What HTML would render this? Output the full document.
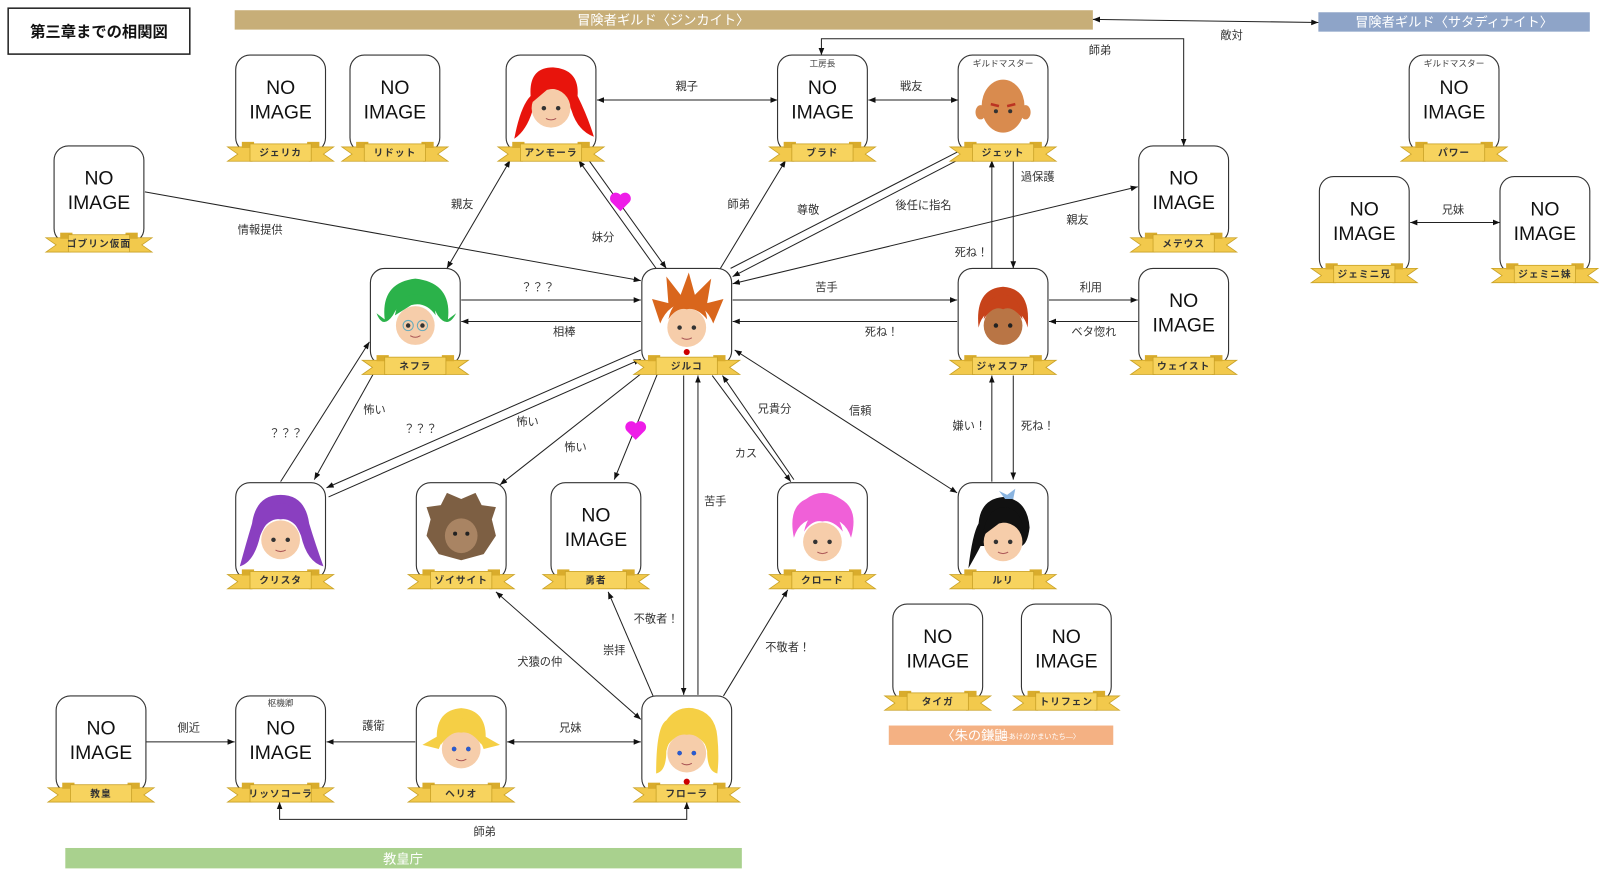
<!DOCTYPE html>
<html><head><meta charset="utf-8"><style>
html,body{margin:0;padding:0;background:#fff;}
svg{display:block;font-family:"Liberation Sans","Noto Sans CJK JP",sans-serif;}
.l{font-size:11px;fill:#333;text-anchor:middle;}
.n{font-size:19px;fill:#111;text-anchor:middle;}
.r{font-size:9.5px;font-weight:bold;fill:#333;text-anchor:middle;letter-spacing:1px;}
.s{font-size:8.5px;fill:#444;text-anchor:middle;}
.b{font-size:13px;fill:#fff;text-anchor:middle;}
line,polyline{stroke:#222;stroke-width:1;fill:none;}
</style></head><body>
<svg width="1600" height="878" viewBox="0 0 1568 860.4" xmlns="http://www.w3.org/2000/svg">
<defs>
<marker id="a" viewBox="0 0 10 10" refX="10" refY="5" markerWidth="7" markerHeight="7" orient="auto-start-reverse"><path d="M0,1 L10,5 L0,9z" fill="#111"/></marker>
<symbol id="card" overflow="visible">
<rect x="0" y="0" width="88" height="95" rx="14" fill="#fff" stroke="#333" stroke-width="1.1"/>
<polygon points="16,90 -8,90 2,97 -8,104 16,104" fill="#f2c94c" stroke="#c9a227" stroke-width=".8"/>
<polygon points="72,90 96,90 86,97 96,104 72,104" fill="#f2c94c" stroke="#c9a227" stroke-width=".8"/>
<rect x="6" y="85" width="12" height="6" fill="#d9ac2c"/>
<rect x="70" y="85" width="12" height="6" fill="#d9ac2c"/>
<rect x="14" y="87" width="60" height="17" fill="#f7d35e" stroke="#c9a227" stroke-width=".8"/>
</symbol>
<symbol id="face" overflow="visible">
<circle cx="44" cy="52" r="19" fill="#f6cdaa"/>
<circle cx="37" cy="52" r="2.2" fill="#333"/><circle cx="51" cy="52" r="2.2" fill="#333"/>
<path d="M39 62 Q44 65 49 62" stroke="#a55" fill="none"/>
</symbol>
</defs>

<!-- title -->
<rect x="8" y="8" width="178" height="45" fill="#fff" stroke="#222" stroke-width="1.5"/>
<text x="97" y="36" style="font-size:15px;font-weight:bold;" text-anchor="middle" fill="#111">第三章までの相関図</text>

<!-- banners -->
<rect x="230" y="10" width="841" height="19" fill="#c7ae78"/>
<text class="b" x="650" y="24">冒険者ギルド〈ジンカイト〉</text>
<rect x="1292" y="12" width="266" height="19" fill="#8ea4c8"/>
<text class="b" x="1425" y="26">冒険者ギルド〈サタディナイト〉</text>
<rect x="64" y="831" width="663" height="20" fill="#a9d18e"/>
<text class="b" x="395" y="846">教皇庁</text>
<rect x="871" y="711" width="220" height="19" fill="#f4b183"/>
<text class="b" x="955" y="725">〈朱の鎌鼬</text><text x="1020" y="724" style="font-size:7px" fill="#fff" text-anchor="middle">―あけのかまいたち―〉</text>

<!-- connectors -->
<line x1="1071" y1="19" x2="1292" y2="22" marker-start="url(#a)" marker-end="url(#a)"/>
<polyline points="805,54 805,38 1160,38 1160,143" marker-start="url(#a)" marker-end="url(#a)"/>
<line x1="585" y1="98" x2="762" y2="98" marker-start="url(#a)" marker-end="url(#a)"/>
<line x1="851" y1="98" x2="939" y2="98" marker-start="url(#a)" marker-end="url(#a)"/>
<line x1="142" y1="188" x2="628" y2="275" marker-end="url(#a)"/>
<line x1="438" y1="263" x2="500" y2="157" marker-start="url(#a)" marker-end="url(#a)"/>
<line x1="567" y1="157" x2="643" y2="263" marker-start="url(#a)"/>
<line x1="577" y1="157" x2="653" y2="263" marker-end="url(#a)"/>
<line x1="706" y1="263" x2="770" y2="157" marker-end="url(#a)"/>
<line x1="716" y1="263" x2="946" y2="145" marker-end="url(#a)"/>
<line x1="718" y1="271" x2="950" y2="151" marker-start="url(#a)"/>
<line x1="972" y1="263" x2="972" y2="157" marker-end="url(#a)"/>
<line x1="993" y1="157" x2="993" y2="263" marker-end="url(#a)"/>
<line x1="718" y1="278" x2="1115" y2="183" marker-start="url(#a)" marker-end="url(#a)"/>
<line x1="452" y1="294" x2="628" y2="294" marker-end="url(#a)"/>
<line x1="628" y1="315" x2="452" y2="315" marker-end="url(#a)"/>
<line x1="718" y1="294" x2="938" y2="294" marker-end="url(#a)"/>
<line x1="938" y1="315" x2="718" y2="315" marker-end="url(#a)"/>
<line x1="1028" y1="294" x2="1115" y2="294" marker-end="url(#a)"/>
<line x1="1115" y1="315" x2="1028" y2="315" marker-end="url(#a)"/>
<line x1="1382" y1="218" x2="1470" y2="218" marker-start="url(#a)" marker-end="url(#a)"/>
<line x1="275" y1="472" x2="362" y2="335" marker-end="url(#a)"/>
<line x1="375" y1="350" x2="308" y2="470" marker-end="url(#a)"/>
<line x1="628" y1="343" x2="320" y2="478" marker-end="url(#a)"/>
<line x1="628" y1="352" x2="322" y2="487" marker-start="url(#a)"/>
<line x1="640" y1="357" x2="490" y2="475" marker-end="url(#a)"/>
<line x1="644" y1="367" x2="602" y2="470" marker-end="url(#a)"/>
<line x1="670" y1="368" x2="670" y2="681" marker-end="url(#a)"/>
<line x1="684" y1="681" x2="684" y2="368" marker-end="url(#a)"/>
<line x1="698" y1="368" x2="775" y2="472" marker-end="url(#a)"/>
<line x1="708" y1="368" x2="778" y2="470" marker-start="url(#a)"/>
<line x1="720" y1="343" x2="938" y2="483" marker-start="url(#a)" marker-end="url(#a)"/>
<line x1="972" y1="472" x2="972" y2="368" marker-end="url(#a)"/>
<line x1="993" y1="368" x2="993" y2="470" marker-end="url(#a)"/>
<line x1="628" y1="705" x2="486" y2="580" marker-start="url(#a)" marker-end="url(#a)"/>
<line x1="640" y1="682" x2="596" y2="580" marker-end="url(#a)"/>
<line x1="709" y1="682" x2="772" y2="578" marker-end="url(#a)"/>
<line x1="497" y1="727" x2="628" y2="727" marker-start="url(#a)" marker-end="url(#a)"/>
<line x1="407" y1="727" x2="320" y2="727" marker-end="url(#a)"/>
<line x1="143" y1="727" x2="230" y2="727" marker-end="url(#a)"/>
<polyline points="274,786 274,803 673,803 673,786" marker-start="url(#a)" marker-end="url(#a)"/>

<!-- hearts -->
<path d="M608 207 L599 198 A5 5 0 0 1 608 191 A5 5 0 0 1 617 198 Z" fill="#ee1de8"/>
<path d="M623 431 L614 422 A5 5 0 0 1 623 415 A5 5 0 0 1 632 422 Z" fill="#ee1de8"/>

<!-- labels -->
<g class="l">
<text x="1207" y="38">敵対</text><text x="1078" y="53">師弟</text>
<text x="673" y="88">親子</text><text x="893" y="88">戦友</text>
<text x="255" y="229">情報提供</text><text x="453" y="204">親友</text>
<text x="591" y="236">妹分</text><text x="724" y="204">師弟</text>
<text x="792" y="209">尊敬</text><text x="905" y="205">後任に指名</text>
<text x="1017" y="177">過保護</text><text x="952" y="251">死ね！</text>
<text x="1056" y="219">親友</text>
<text x="527" y="285">？？？</text><text x="553" y="329">相棒</text>
<text x="810" y="285">苦手</text><text x="864" y="329">死ね！</text>
<text x="1069" y="285">利用</text><text x="1072" y="329">ベタ惚れ</text>
<text x="1424" y="209">兄妹</text>
<text x="280" y="428">？？？</text><text x="367" y="405">怖い</text>
<text x="412" y="424">？？？</text><text x="517" y="417">怖い</text>
<text x="564" y="442">怖い</text><text x="701" y="495">苦手</text>
<text x="759" y="404">兄貴分</text><text x="731" y="448">カス</text>
<text x="843" y="406">信頼</text>
<text x="950" y="421">嫌い！</text><text x="1017" y="421">死ね！</text>
<text x="529" y="652">犬猿の仲</text><text x="602" y="641">崇拝</text>
<text x="643" y="610">不敬者！</text><text x="772" y="638">不敬者！</text>
<text x="559" y="717">兄妹</text><text x="366" y="715">護衛</text>
<text x="185" y="717">側近</text><text x="475" y="819">師弟</text>
</g>

<!-- cards -->
<g>
<use href="#card" x="231" y="54"/><use href="#card" x="343" y="54"/><use href="#card" x="496" y="54"/>
<use href="#card" x="762" y="54"/><use href="#card" x="939" y="54"/><use href="#card" x="1381" y="54"/>
<use href="#card" x="53" y="143"/><use href="#card" x="1116" y="143"/>
<use href="#card" x="1293" y="173"/><use href="#card" x="1470" y="173"/>
<use href="#card" x="363" y="263"/><use href="#card" x="629" y="263"/><use href="#card" x="939" y="263"/><use href="#card" x="1116" y="263"/>
<use href="#card" x="231" y="473"/><use href="#card" x="408" y="473"/><use href="#card" x="540" y="473"/><use href="#card" x="762" y="473"/><use href="#card" x="939" y="473"/>
<use href="#card" x="875" y="592"/><use href="#card" x="1001" y="592"/>
<use href="#card" x="55" y="682"/><use href="#card" x="231" y="682"/><use href="#card" x="408" y="682"/><use href="#card" x="629" y="682"/>
</g>

<!-- faces -->
<g transform="translate(496,54)"><path d="M8 82 Q14 50 24 40 Q22 12 46 12 Q72 14 70 40 Q80 60 86 80 Q70 74 64 54 Q58 36 44 34 Q30 36 26 54 Q20 74 8 82Z" fill="#e8140c"/><use href="#face"/><path d="M26 46 Q30 18 46 16 Q66 18 64 44 Q56 30 40 34 Z" fill="#e8140c"/></g>
<g transform="translate(939,54)"><ellipse cx="44" cy="50" rx="21" ry="26" fill="#d98b4e"/><ellipse cx="22" cy="56" rx="5" ry="7" fill="#d98b4e"/><ellipse cx="66" cy="56" rx="5" ry="7" fill="#d98b4e"/><path d="M32 48 L40 50 M56 48 L48 50" stroke="#b32" stroke-width="2.5"/><circle cx="37" cy="55" r="2" fill="#333"/><circle cx="51" cy="55" r="2" fill="#333"/></g>
<g transform="translate(363,263)"><path d="M14 50 Q10 14 44 10 Q80 14 76 50 L84 44 Q76 60 66 46 Q58 30 44 30 Q30 30 22 46 Q12 60 6 44Z" fill="#2bb24a"/><use href="#face" y="4"/><circle cx="37" cy="56" r="5" fill="none" stroke="#6ab"/><circle cx="51" cy="56" r="5" fill="none" stroke="#6ab"/><path d="M24 46 Q28 24 46 26 Q62 26 64 46 Q54 32 40 36Z" fill="#2bb24a"/></g>
<g transform="translate(629,263)"><path d="M18 54 L10 30 L26 34 L24 8 L38 26 L46 4 L52 26 L68 10 L64 34 L80 30 L70 54 Q62 34 44 34 Q26 34 18 54Z" fill="#d9661c"/><use href="#face" y="6"/><path d="M26 50 Q30 30 46 30 Q62 30 64 50 Q54 38 44 40 Q34 38 26 50Z" fill="#d9661c"/><circle cx="44" cy="82" r="3" fill="#c00"/></g>
<g transform="translate(939,263)"><path d="M20 58 Q16 20 44 18 Q72 20 68 58 Q64 40 44 38 Q24 40 20 58Z" fill="#c7431a"/><circle cx="44" cy="56" r="19" fill="#b97545"/><circle cx="37" cy="56" r="2.2" fill="#222"/><circle cx="51" cy="56" r="2.2" fill="#222"/><path d="M25 50 Q28 26 44 26 Q60 26 63 50 Q54 36 44 40 Q34 36 25 50Z" fill="#c7431a"/></g>
<g transform="translate(231,473)"><path d="M4 82 Q10 60 16 40 Q20 12 44 12 Q68 12 72 40 Q78 60 86 82 Q70 78 64 52 Q56 32 44 34 Q32 32 24 52 Q18 78 4 82Z" fill="#8a3fc0"/><use href="#face" y="4"/><path d="M24 48 Q28 20 44 20 Q60 20 64 48 Q54 34 44 36 Q34 34 24 48Z" fill="#8a3fc0"/></g>
<g transform="translate(408,473)"><path d="M10 52 L14 36 L10 24 L24 22 L30 10 L44 16 L58 10 L64 22 L78 24 L74 36 L78 52 L66 70 L44 76 L22 70Z" fill="#7d5f43"/><ellipse cx="44" cy="52" rx="16" ry="17" fill="#a98463"/><circle cx="38" cy="50" r="2" fill="#222"/><circle cx="50" cy="50" r="2" fill="#222"/></g>
<g transform="translate(762,473)"><path d="M16 54 Q10 24 28 16 Q44 4 62 16 Q80 26 72 54 Q66 34 44 34 Q22 34 16 54Z" fill="#f060d8"/><use href="#face" y="6"/><path d="M26 48 Q30 28 44 28 Q60 28 64 48 Q54 36 44 38 Q34 36 26 48Z" fill="#f060d8"/></g>
<g transform="translate(939,473)"><path d="M10 84 Q14 50 20 40 Q22 16 44 14 Q68 16 70 44 Q68 60 62 62 L22 62 Q18 70 10 84Z" fill="#111"/><path d="M40 8 L48 12 L56 6 L54 16 L46 16Z" fill="#8ab4e0"/><use href="#face" y="6"/><path d="M24 52 Q28 24 46 24 Q62 26 64 48 Q54 36 40 40Z" fill="#111"/></g>
<g transform="translate(408,682)"><path d="M6 48 L20 40 Q20 14 44 12 Q68 14 68 40 L82 48 L66 52 Q60 34 44 34 Q28 34 22 52Z" fill="#f5cf45"/><use href="#face"/><circle cx="37" cy="52" r="2.2" fill="#2a5bd0"/><circle cx="51" cy="52" r="2.2" fill="#2a5bd0"/><path d="M24 48 Q28 22 44 22 Q60 22 64 48 Q54 34 44 36 Q34 34 24 48Z" fill="#f5cf45"/></g>
<g transform="translate(629,682)"><path d="M14 76 Q14 30 24 24 Q34 10 50 12 Q72 16 74 40 Q76 60 74 76 Q64 74 64 54 Q60 36 44 36 Q28 36 24 54 Q24 74 14 76Z" fill="#f5cf45"/><use href="#face" y="4"/><circle cx="37" cy="56" r="2.2" fill="#2a5bd0"/><circle cx="51" cy="56" r="2.2" fill="#2a5bd0"/><path d="M24 50 Q28 22 46 22 Q62 24 64 50 Q54 36 44 38 Q34 36 24 50Z" fill="#f5cf45"/><circle cx="44" cy="84" r="3" fill="#c00"/></g>

<!-- NO IMAGE texts -->
<g class="n">
<text x="275" y="92">NO</text><text x="275" y="116">IMAGE</text>
<text x="387" y="92">NO</text><text x="387" y="116">IMAGE</text>
<text x="806" y="92">NO</text><text x="806" y="116">IMAGE</text>
<text x="1425" y="92">NO</text><text x="1425" y="116">IMAGE</text>
<text x="97" y="181">NO</text><text x="97" y="205">IMAGE</text>
<text x="1160" y="181">NO</text><text x="1160" y="205">IMAGE</text>
<text x="1337" y="211">NO</text><text x="1337" y="235">IMAGE</text>
<text x="1514" y="211">NO</text><text x="1514" y="235">IMAGE</text>
<text x="1160" y="301">NO</text><text x="1160" y="325">IMAGE</text>
<text x="584" y="511">NO</text><text x="584" y="535">IMAGE</text>
<text x="919" y="630">NO</text><text x="919" y="654">IMAGE</text>
<text x="1045" y="630">NO</text><text x="1045" y="654">IMAGE</text>
<text x="99" y="720">NO</text><text x="99" y="744">IMAGE</text>
<text x="275" y="720">NO</text><text x="275" y="744">IMAGE</text>
</g>
<g class="s">
<text x="806" y="65">工房長</text><text x="983" y="65">ギルドマスター</text><text x="1425" y="65">ギルドマスター</text><text x="275" y="692">枢機卿</text>
</g>

<!-- ribbon names -->
<g class="r">
<text x="275" y="153">ジェリカ</text><text x="387" y="153">リドット</text><text x="540" y="153">アンモーラ</text>
<text x="806" y="153">ブラド</text><text x="983" y="153">ジェット</text><text x="1425" y="153">パワー</text>
<text x="97" y="242">ゴブリン仮面</text><text x="1160" y="242">メテウス</text>
<text x="1337" y="272">ジェミニ兄</text><text x="1514" y="272">ジェミニ妹</text>
<text x="407" y="362">ネフラ</text><text x="673" y="362">ジルコ</text><text x="983" y="362">ジャスファ</text><text x="1160" y="362">ウェイスト</text>
<text x="275" y="572">クリスタ</text><text x="452" y="572">ゾイサイト</text><text x="584" y="572">勇者</text><text x="806" y="572">クロード</text><text x="983" y="572">ルリ</text>
<text x="919" y="691">タイガ</text><text x="1045" y="691">トリフェン</text>
<text x="99" y="781">教皇</text><text x="275" y="781">リッソコーラ</text><text x="452" y="781">ヘリオ</text><text x="673" y="781">フローラ</text>
</g>
</svg>
</body></html>
